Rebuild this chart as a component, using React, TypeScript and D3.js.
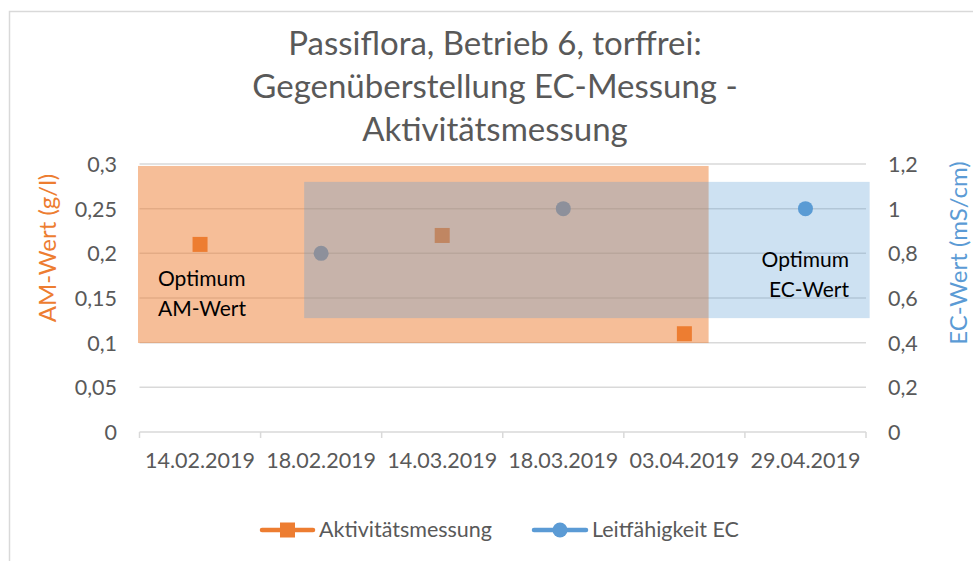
import React from "react";
import * as d3 from "d3";

// categories and series
const dates = ["14.02.2019", "18.02.2019", "14.03.2019", "18.03.2019", "03.04.2019", "29.04.2019"];
const amValues: (number | null)[] = [0.21, null, 0.22, null, 0.11, null];
const ecValues: (number | null)[] = [null, 0.8, null, 1.0, null, 1.0];

const amTicks = [0, 0.05, 0.1, 0.15, 0.2, 0.25, 0.3];
const ecTicks = [0, 0.2, 0.4, 0.6, 0.8, 1, 1.2];

// optimum ranges: category-index extent and value extent on their own axis
const amOptimum = { from: 0, to: 4.7, low: 0.0996, high: 0.2978 };
const ecOptimum = { from: 1.36, to: 6.03, low: 0.51, high: 1.12 };

const title = ["Passiflora, Betrieb 6, torffrei:", "Gegenüberstellung EC-Messung -", "Aktivitätsmessung"];

const W = 973;
const H = 561;
const margin = { top: 164, right: 107, bottom: 129, left: 139.5 };
const orange = "#ed7d31";
const blue = "#5b9bd5";
const grey = "#595959";
const grid = "#d9d9d9";
const font = "Lato, 'Open Sans', sans-serif";

const fmt = (d: number) => String(d).replace(".", ",");

export default function App() {
  const x = d3.scaleBand().domain(dates).range([margin.left, W - margin.right]).padding(0);
  const xIdx = d3.scaleLinear().domain([0, dates.length]).range([margin.left, W - margin.right]);
  const yAm = d3.scaleLinear().domain([0, 0.3]).range([H - margin.bottom, margin.top]);
  const yEc = d3.scaleLinear().domain([0, 1.2]).range([H - margin.bottom, margin.top]);
  const cx = (d: string) => (x(d) ?? 0) + x.bandwidth() / 2;

  const amPts = dates.map((d, i) => ({ d, v: amValues[i] })).filter((p) => p.v != null) as { d: string; v: number }[];
  const ecPts = dates.map((d, i) => ({ d, v: ecValues[i] })).filter((p) => p.v != null) as { d: string; v: number }[];
  const sq = 15;
  const titleCx = 495;

  return (
    <svg width={W} height={H} style={{ position: "absolute", left: 0, top: 0, background: "#fff" }} fontFamily={font}>
      <rect x={9.5} y={11.5} width={1000} height={600} fill="#fff" stroke={grid} strokeWidth={1.5} />

      {title.map((t, i) => (
        <text key={t} x={titleCx} y={55 + i * 43} textAnchor="middle" fontSize={33} fill={grey}>
          {t}
        </text>
      ))}

      {/* gridlines */}
      {amTicks.filter((t) => t > 0).map((t) => (
        <line key={t} x1={margin.left} x2={W - margin.right} y1={yAm(t)} y2={yAm(t)} stroke={grid} strokeWidth={1.5} />
      ))}
      {/* category axis */}
      <line x1={margin.left} x2={W - margin.right} y1={yAm(0)} y2={yAm(0)} stroke={grid} strokeWidth={1.5} />
      {d3.range(dates.length + 1).map((i) => (
        <line key={i} x1={xIdx(i)} x2={xIdx(i)} y1={yAm(0)} y2={yAm(0) + 6} stroke={grid} strokeWidth={1.5} />
      ))}

      {/* EC series (under the optimum boxes) */}
      {ecPts.map((p) => (
        <circle key={p.d} cx={cx(p.d)} cy={yEc(p.v)} r={7.5} fill={blue} />
      ))}

      <rect
        x={xIdx(amOptimum.from) - 1.5}
        y={yAm(amOptimum.high)}
        width={xIdx(amOptimum.to) - xIdx(amOptimum.from) + 1.5}
        height={yAm(amOptimum.low) - yAm(amOptimum.high)}
        fill={orange}
        fillOpacity={0.5}
      />

      {amPts.map((p) => (
        <rect key={p.d} x={cx(p.d) - sq / 2} y={yAm(p.v) - sq / 2} width={sq} height={sq} fill={orange} />
      ))}

      <rect
        x={xIdx(ecOptimum.from)}
        y={yEc(ecOptimum.high)}
        width={xIdx(ecOptimum.to) - xIdx(ecOptimum.from)}
        height={yEc(ecOptimum.low) - yEc(ecOptimum.high)}
        fill={blue}
        fillOpacity={0.3}
      />

      <text x={158} y={286} fontSize={21} fill="#000">
        <tspan x={158}>Optimum</tspan>
        <tspan x={158} dy={30}>AM-Wert</tspan>
      </text>
      <text x={849} y={267} fontSize={21} fill="#000" textAnchor="end">
        <tspan x={849}>Optimum</tspan>
        <tspan x={849} dy={30}>EC-Wert</tspan>
      </text>

      {/* left axis labels */}
      {amTicks.map((t) => (
        <text key={t} x={117} y={yAm(t) + 8} textAnchor="end" fontSize={21.5} fill={grey}>
          {fmt(t)}
        </text>
      ))}
      {/* right axis labels */}
      {ecTicks.map((t) => (
        <text key={t} x={888} y={yEc(t) + 8} fontSize={21.5} fill={grey}>
          {fmt(t)}
        </text>
      ))}
      {/* category labels */}
      {dates.map((d) => (
        <text key={d} x={cx(d)} y={468} textAnchor="middle" fontSize={21.5} fill={grey}>
          {d}
        </text>
      ))}

      <text transform="translate(56,248) rotate(-90)" textAnchor="middle" fontSize={24} fill={orange}>
        AM-Wert (g/l)
      </text>
      <text transform="translate(967,253) rotate(-90)" textAnchor="middle" fontSize={24} fill={blue}>
        EC-Wert (mS/cm)
      </text>

      {/* legend */}
      <g>
        <line x1={262} x2={313} y1={530} y2={530} stroke={orange} strokeWidth={4.5} strokeLinecap="round" />
        <rect x={287.5 - sq / 2} y={530 - sq / 2} width={sq} height={sq} fill={orange} />
        <text x={319} y={537} fontSize={21.5} fill={grey}>Aktivitätsmessung</text>
        <line x1={534} x2={586} y1={530} y2={530} stroke={blue} strokeWidth={4.5} strokeLinecap="round" />
        <circle cx={560} cy={530} r={7.5} fill={blue} />
        <text x={592} y={537} fontSize={21.5} fill={grey}>Leitfähigkeit EC</text>
      </g>
    </svg>
  );
}
